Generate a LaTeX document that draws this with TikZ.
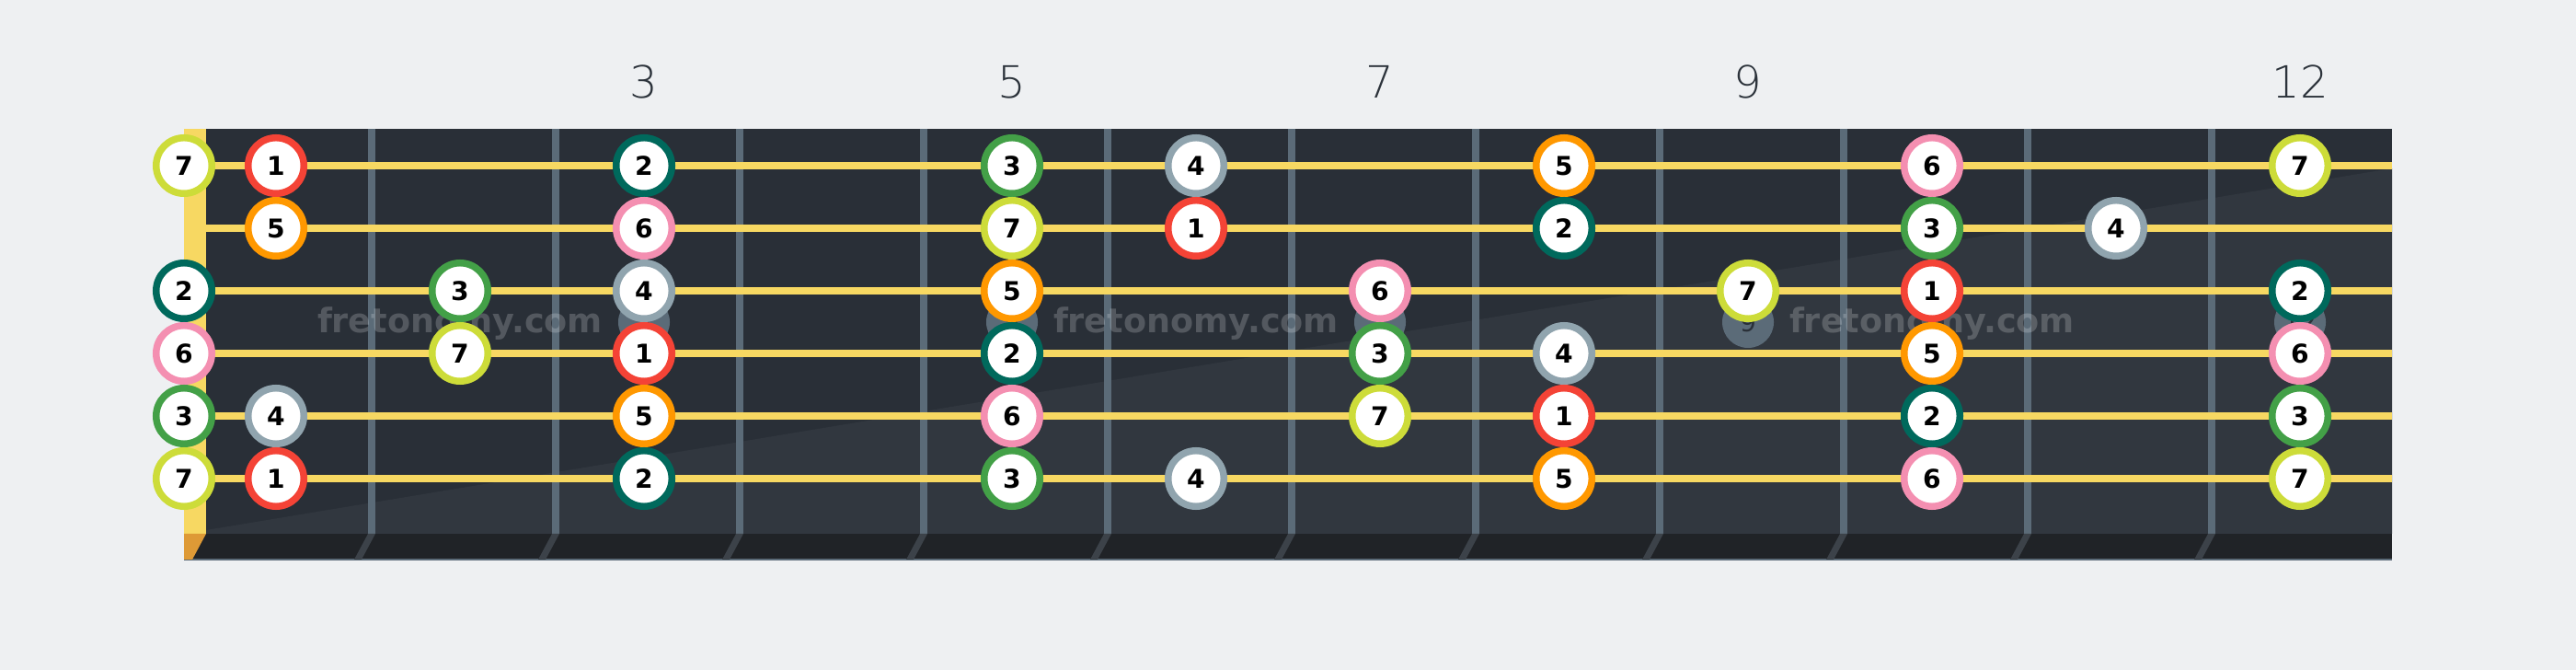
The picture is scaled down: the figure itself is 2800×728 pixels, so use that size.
\documentclass[tikz,border=0pt]{standalone}
\usepackage{fontspec}
\newfontfamily\dejavu{DejaVu Sans}
\newfontfamily\dejavulight{DejaVu Sans ExtraLight}

\definecolor{bg}{HTML}{EEF0F2}
\definecolor{board}{HTML}{292F37}
\definecolor{boardlight}{HTML}{31373F}
\definecolor{edge}{HTML}{202327}
\definecolor{fretcol}{HTML}{5B6B78}
\definecolor{fretshade}{HTML}{3C4249}
\definecolor{stringcol}{HTML}{F7D862}
\definecolor{nutfoot}{HTML}{DE9A36}
\definecolor{numcol}{HTML}{2C333B}
\definecolor{inlaytext}{HTML}{2A3038}
\definecolor{deg1}{HTML}{F44336}
\definecolor{deg2}{HTML}{00695C}
\definecolor{deg3}{HTML}{43A047}
\definecolor{deg4}{HTML}{90A4AE}
\definecolor{deg5}{HTML}{FF9800}
\definecolor{deg6}{HTML}{F48FB1}
\definecolor{deg7}{HTML}{CDDC39}

\tikzset{
	note/.style={circle,draw,fill=white,line width=2.13pt,minimum size=0.605cm,inner sep=0pt,text=black,font=\dejavu\bfseries\fontsize{8}{9}\selectfont},
	inlay/.style={circle,fill=fretcol,minimum size=0.56cm,inner sep=0pt,text=inlaytext,font=\dejavu\fontsize{8}{9}\selectfont},
	fretnum/.style={anchor=base,text=numcol,font=\dejavulight\fontsize{13.7}{15}\selectfont},
	watermark/.style={anchor=base,text=white,text opacity=0.2,font=\dejavu\bfseries\fontsize{10.4}{12}\selectfont},
}

\begin{document}
\begin{tikzpicture}[x=0.01cm,y=-0.01cm]
	\fill[bg] (0,0) rectangle (2800,728);
	\useasboundingbox (0,0) rectangle (2800,728);
	% board
	\fill[board] (224,140) rectangle (2600,580);
	\fill[boardlight] (224,576) -- (2600,183) -- (2600,580) -- (224,580) -- cycle;
	\fill[edge] (200,580) rectangle (2600,608);
	\draw[fretcol,line width=0.4pt] (200,608) -- (2600,608);
	% frets
	\foreach \f in {1,...,11}{
		\fill[fretcol] ({200+200*\f},140) rectangle ({208+200*\f},580);
		\fill[fretshade] ({200+200*\f},580) -- ({208+200*\f},580) -- ({193+200*\f},608) -- ({185+200*\f},608) -- cycle;
	}
	% inlays
	\foreach \f in {3,5,7,9,12}
		\node[inlay] (dot\f) at ({100+200*\f},350) {\f};
	\foreach \x [count=\i] in {500,1300,2100}
		\node[watermark] (wm\i) at (\x,362) {fretonomy.com};
	% strings and nut
	\foreach \s in {1,...,6}
		\draw[stringcol,line width=2pt] (224,{112+68*\s}) -- (2600,{112+68*\s});
	\fill[stringcol] (200,140) rectangle (224,580);
	\fill[nutfoot] (200,580) -- (224,580) -- (209,608) -- (200,608) -- cycle;
	% fret numbers
	\foreach \f in {3,5,7,9,12}
		\node[fretnum] (num\f) at ({100+200*\f},107) {\f};
	% scale notes: string/{fret/degree}
	\foreach \s/\row in {1/{0/7,1/1,3/2,5/3,6/4,8/5,10/6,12/7},
			2/{1/5,3/6,5/7,6/1,8/2,10/3,11/4},
			3/{0/2,2/3,3/4,5/5,7/6,9/7,10/1,12/2},
			4/{0/6,2/7,3/1,5/2,7/3,8/4,10/5,12/6},
			5/{0/3,1/4,3/5,5/6,7/7,8/1,10/2,12/3},
			6/{0/7,1/1,3/2,5/3,6/4,8/5,10/6,12/7}}{
		\foreach \f/\d in \row
			\node[note,draw=deg\d] (n\s-\f) at ({max(200,100+200*\f)},{112+68*\s}) {\d};
	}
\end{tikzpicture}
\end{document}
